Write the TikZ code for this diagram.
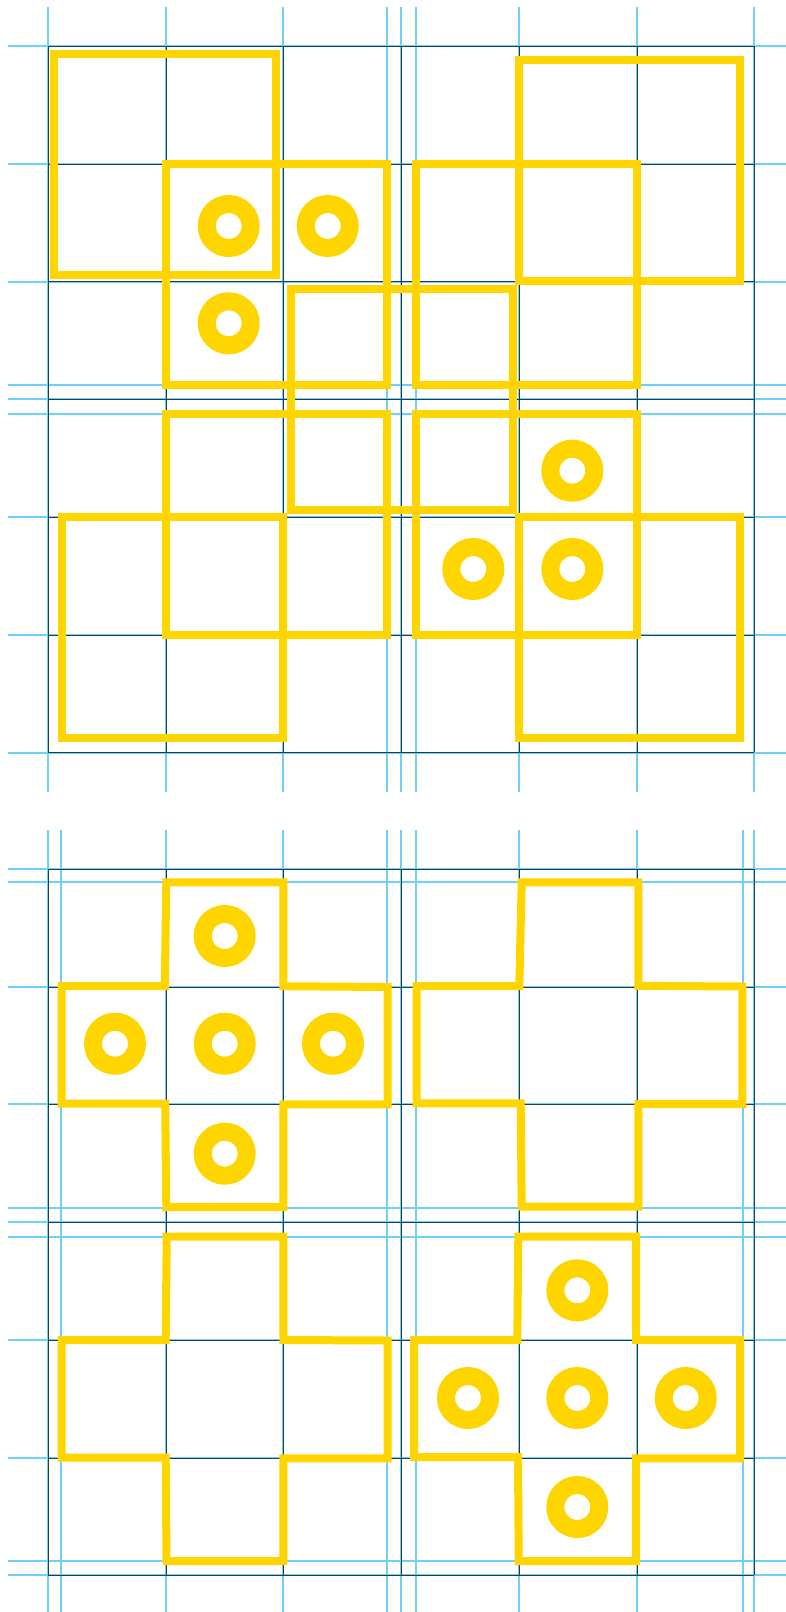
\documentclass[tikz,border=0pt]{standalone}
\definecolor{tlyellow}{HTML}{FFD500}
\definecolor{tlblue}{HTML}{6FCFF6}
\definecolor{tlgrid}{HTML}{1D3F4C}

\begin{document}
\begin{tikzpicture}[x=1pt, y=-1pt,
    guide/.style={draw=tlblue, line width=2pt},
    gridline/.style={draw=tlgrid, line width=1pt},
    tile/.style={draw=tlyellow, line width=8pt},
    ring/.style={draw=tlyellow, line width=18pt}]
  \useasboundingbox (0,0) rectangle (786,1612);
  % top panel: guides and grid
  \foreach \x in {48,166,283,387,401,416,519,637,754}
    \draw[guide] (\x,7) -- (\x,792);
  \foreach \y in {46,164,282,385,399,414,517,635,753}
    \draw[guide] (8,\y) -- (786,\y);
  \foreach \v in {48,166,283,401,519,637,754}{
    \draw[gridline] (\v,46) -- (\v,752);
    \draw[gridline] (48,\v-2) -- (754,\v-2);
  }
  % bottom panel: guides and grid
  \foreach \x in {48,61,166,283,387,401,416,519,637,743,754}
    \draw[guide] (\x,830) -- (\x,1612);
  \foreach \y in {869,882,987,1104,1208,1222,1237,1340,1458,1561,1575}
    \draw[guide] (8,\y) -- (786,\y);
  \foreach \x in {48,166,283,401,519,637,754}
    \draw[gridline] (\x,869) -- (\x,1575);
  \foreach \y in {869,987,1104,1222,1340,1458,1575}
    \draw[gridline] (48,\y) -- (754,\y);

  % top panel: 2x2 tiles
  \draw[tile] (54,54) rectangle (276,275);
  \draw[tile] (166,164) rectangle (387,385);
  \draw[tile] (291,289) rectangle (513,510);
  \draw[tile] (519,60) rectangle (740,281);
  \draw[tile] (416,164) rectangle (637,385);
  \draw[tile] (166,414) rectangle (387,635);
  \draw[tile] (62,517) rectangle (283,738);
  \draw[tile] (416,414) rectangle (637,635);
  \draw[tile] (519,517) rectangle (740,738);
  % top panel: rings
  \foreach \cx/\cy in {228.7/226, 327.7/226, 228.7/323.3,
                       572.3/470.7, 473.3/569, 572.3/569}
    \draw[ring] (\cx,\cy) circle (22);

  % bottom panel: crosses
  \draw[tile] (166.3,882.3) -- (164.8,986) -- (61.5,986) -- (61.5,1103.5)
    -- (165.2,1103.5) -- (166.3,1207) -- (283.3,1207) -- (283.3,1104.3)
    -- (387.5,1104.3) -- (387.5,987) -- (283.3,986.2) -- (283.3,882.3) -- cycle;
  \draw[tile] (521.7,882.3) -- (519.3,986) -- (416.5,986) -- (416.5,1103.3)
    -- (520.7,1103.3) -- (521.7,1206.7) -- (638.3,1206.7) -- (638.3,1104)
    -- (742.3,1104) -- (742.3,986.5) -- (638.3,985.8) -- (638.3,882.3) -- cycle;
  \draw[tile] (166.7,1236.5) -- (165.7,1340.2) -- (61.7,1340.2) -- (61.7,1457.5)
    -- (165.7,1457.5) -- (166.5,1561) -- (283.3,1561) -- (283.3,1458.3)
    -- (387.7,1458.3) -- (387.7,1340.5) -- (283.3,1340) -- (283.3,1236.5) -- cycle;
  \draw[tile] (518.3,1236.5) -- (517.3,1340) -- (414.2,1340) -- (414.2,1457)
    -- (518,1457) -- (518.7,1561) -- (636,1561) -- (636,1458.3)
    -- (740,1458.3) -- (740,1340) -- (636,1340) -- (636,1236.5) -- cycle;
  % bottom panel: rings
  \foreach \cx/\cy in {224.7/936, 115/1043.7, 224.7/1043.7, 333/1043.7,
                       224.7/1153.7, 577.3/1290.3, 468/1398, 577.3/1398,
                       685.7/1398, 577.3/1507}
    \draw[ring] (\cx,\cy) circle (22);
\end{tikzpicture}
\end{document}
